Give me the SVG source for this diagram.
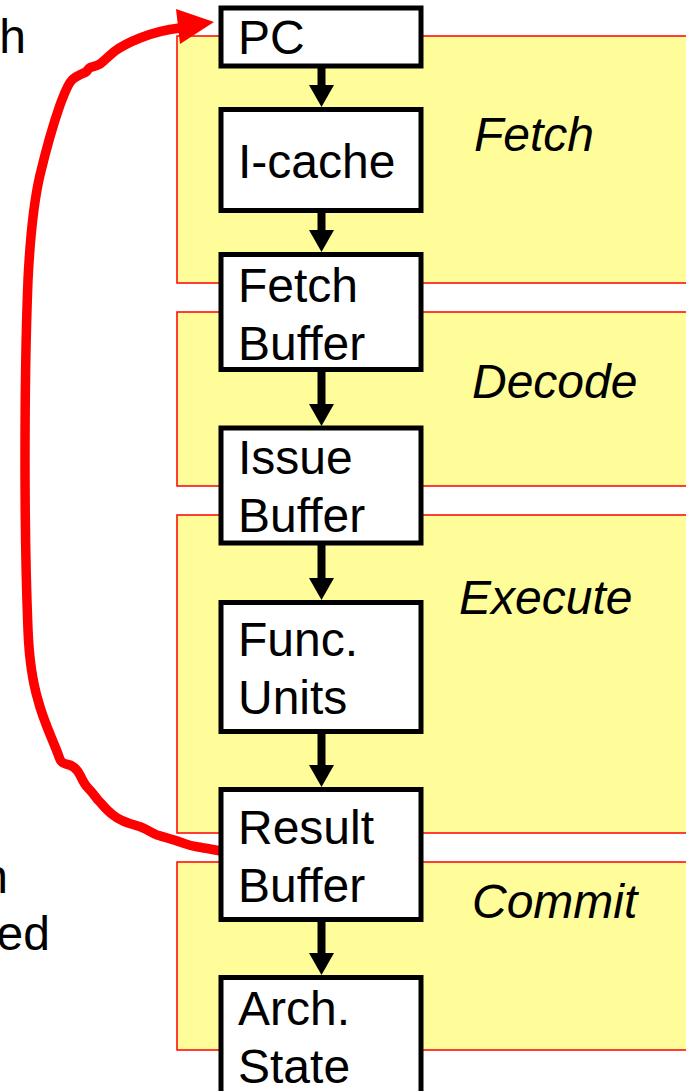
<svg xmlns="http://www.w3.org/2000/svg" width="686" height="1091" viewBox="0 0 686 1091">
  <style>
    .stage { fill: #FFFD99; stroke: #FF0000; stroke-width: 1.5; }
    .box { fill: #FFFFFF; stroke: #000000; stroke-width: 5; }
    .lbl { font-family: "Liberation Sans", Arial, sans-serif; font-size: 48px; fill: #000000; }
    .stg { font-family: "Liberation Sans", Arial, sans-serif; font-size: 48px; font-style: italic; fill: #000000; }
    .flow { stroke: #000000; stroke-width: 8; fill: none; }
    .loop { stroke: #FF0000; stroke-width: 9.5; fill: none; stroke-linejoin: round; stroke-linecap: round; }
  </style>
  <defs>
    <marker id="head" markerUnits="userSpaceOnUse" viewBox="0 0 22 25" markerWidth="22" markerHeight="25" refX="0" refY="12.5" orient="auto">
      <path d="M0,0 L22,12.5 L0,25 Z" fill="#000000"/>
    </marker>
  </defs>

  <rect width="686" height="1091" fill="#FFFFFF"/>

  <!-- pipeline stage bands -->
  <g id="stages">
    <rect class="stage" x="177" y="36" width="520" height="247"/>
    <rect class="stage" x="177" y="312" width="520" height="174"/>
    <rect class="stage" x="177" y="515" width="520" height="318"/>
    <rect class="stage" x="177" y="862" width="520" height="188"/>
    <text class="stg" x="474" y="151">Fetch</text>
    <text class="stg" x="472" y="398">Decode</text>
    <text class="stg" x="459" y="614">Execute</text>
    <text class="stg" x="472" y="918">Commit</text>
  </g>

  <!-- side text fragments -->
  <g id="side-text">
    <text class="lbl" x="26" y="53" text-anchor="end">h</text>
    <text class="lbl" x="8" y="893" text-anchor="end">n</text>
    <text class="lbl" x="50" y="950" text-anchor="end">ed</text>
  </g>

  <!-- downward data-flow arrows and the redirect loop -->
  <g id="connectors">
    <line class="flow" x1="321.5" y1="68" x2="321.5" y2="85" marker-end="url(#head)"/>
    <line class="flow" x1="321.5" y1="212" x2="321.5" y2="230" marker-end="url(#head)"/>
    <line class="flow" x1="321.5" y1="371" x2="321.5" y2="404" marker-end="url(#head)"/>
    <line class="flow" x1="321.5" y1="545" x2="321.5" y2="578" marker-end="url(#head)"/>
    <line class="flow" x1="321.5" y1="734" x2="321.5" y2="765" marker-end="url(#head)"/>
    <line class="flow" x1="321.5" y1="921" x2="321.5" y2="953" marker-end="url(#head)"/>
    <path class="loop" d="M227,852 C215,850 205,848 198,847 C190,846 186,844 180,842 C172,839 164,837 157,835 C150,832 145,828 138,826 C128,823 120,821 113,815 C106,810 102,804 98,800 C94,795 92,792 88,788 C84,784 82,779 80,775 C77,769 73,765 66,764 C61,763 60,760 58,754 C52,738 43,720 38,700 C32,680 29,655 28,630 C26,580 25,520 25,460 C25,400 26,330 28,280 C30,240 33,205 40,175 C46,150 53,125 60,105 C64,95 67,85 72,80 C76,76 82,74 86,72 C88,70 89,67 92,67 C95,66 96,66 100,64 C105,60 110,55 115,51 C122,46 130,42 140,38 C150,34 162,30 180,28"/>
    <polygon points="176,9 214,22 180,44" fill="#FF0000"/>
  </g>

  <!-- pipeline structures -->
  <g id="pc">
    <rect class="box" x="221" y="8" width="200" height="58"/>
    <text class="lbl" x="238" y="54">PC</text>
  </g>
  <g id="icache">
    <rect class="box" x="221" y="109.5" width="200" height="101"/>
    <text class="lbl" x="238" y="178">I-cache</text>
  </g>
  <g id="fetch-buffer">
    <rect class="box" x="221" y="254.5" width="200" height="115"/>
    <text class="lbl" x="238" y="302">Fetch</text>
    <text class="lbl" x="238" y="360">Buffer</text>
  </g>
  <g id="issue-buffer">
    <rect class="box" x="221" y="428" width="200" height="115"/>
    <text class="lbl" x="238" y="474">Issue</text>
    <text class="lbl" x="238" y="532">Buffer</text>
  </g>
  <g id="func-units">
    <rect class="box" x="221" y="602.5" width="200" height="129"/>
    <text class="lbl" x="238" y="656">Func.</text>
    <text class="lbl" x="238" y="714">Units</text>
  </g>
  <g id="result-buffer">
    <rect class="box" x="221" y="789.5" width="200" height="130"/>
    <text class="lbl" x="238" y="844">Result</text>
    <text class="lbl" x="238" y="902">Buffer</text>
  </g>
  <g id="arch-state">
    <rect class="box" x="221" y="977.5" width="200" height="130"/>
    <text class="lbl" x="238" y="1025">Arch.</text>
    <text class="lbl" x="238" y="1083">State</text>
  </g>
</svg>
